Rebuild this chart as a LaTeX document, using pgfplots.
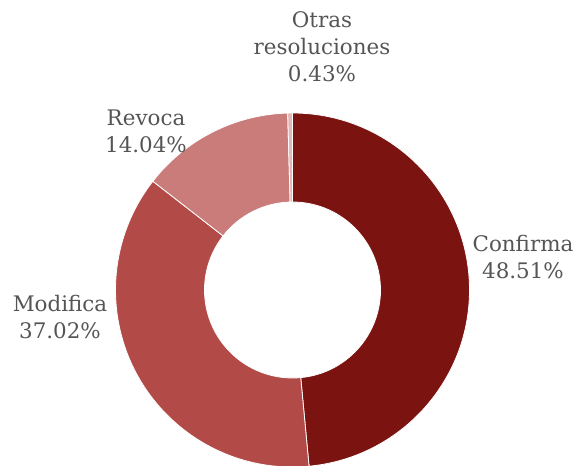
\documentclass[border=0pt]{standalone}
\usepackage{fontspec}
\setmainfont{DejaVu Serif}
\usepackage{pgfplots}
\usepackage{pgfplotstable}
\pgfplotsset{compat=1.18}

\definecolor{cConf}{HTML}{7B1311}
\definecolor{cMod}{HTML}{B24B48}
\definecolor{cRev}{HTML}{C97C7A}
\definecolor{cOtr}{HTML}{E5B6B5}
\definecolor{lbl}{HTML}{555555}

% share (%) and colour of each slice, clockwise from the top
\pgfplotstableread{
name     share  col
Confirma 48.51  cConf
Modifica 37.02  cMod
Revoca   14.04  cRev
Otras    0.43   cOtr
}\slices

\begin{document}
\begin{tikzpicture}
\begin{axis}[
    name=pie,
    scale only axis,
    width=577bp, height=466bp,
    xmin=0, xmax=577, ymin=-466, ymax=0,
    hide axis,
    clip=true,
  ]
  \def\cx{292.5}\def\cy{-290}
  \def\Ro{177}\def\Ri{88}
  \xdef\acur{90}
  \pgfplotstablegetrowsof{\slices}
  \pgfmathtruncatemacro{\nrows}{\pgfplotsretval-1}
  \foreach \i in {0,...,\nrows}{
    \pgfplotstablegetelem{\i}{share}\of{\slices}\let\sh\pgfplotsretval
    \pgfplotstablegetelem{\i}{col}\of{\slices}\let\cl\pgfplotsretval
    \pgfmathsetmacro{\aone}{\acur}
    \pgfmathsetmacro{\atwo}{\acur-3.6*\sh}
    \pgfmathsetmacro{\xa}{\cx+\Ro*cos(\aone)}
    \pgfmathsetmacro{\ya}{\cy+\Ro*sin(\aone)}
    \pgfmathsetmacro{\xb}{\cx+\Ri*cos(\atwo)}
    \pgfmathsetmacro{\yb}{\cy+\Ri*sin(\atwo)}
    \edef\temp{\noexpand\fill[\cl, draw=white, line width=0.8bp]
      (axis cs:\xa,\ya) arc[start angle=\aone, end angle=\atwo, radius=\Ro bp]
      -- (axis cs:\xb,\yb) arc[start angle=\atwo, end angle=\aone, radius=\Ri bp]
      -- cycle;}
    \temp
    \xdef\acur{\atwo}
  }
  \begin{scope}[every node/.style={align=center, text=lbl, font=\fontsize{21.5}{27}\selectfont}]
    \node at (axis cs:322,-47) {Otras\\resoluciones\\0.43\%};
    \node at (axis cs:146,-131) {Revoca\\14.04\%};
    \node at (axis cs:523,-257) {Confirma\\48.51\%};
    \node at (axis cs:60,-317) {Modifica\\37.02\%};
  \end{scope}
\end{axis}
\pgfresetboundingbox
\path[use as bounding box] (pie.south west) rectangle (pie.north east);
\end{tikzpicture}
\end{document}
